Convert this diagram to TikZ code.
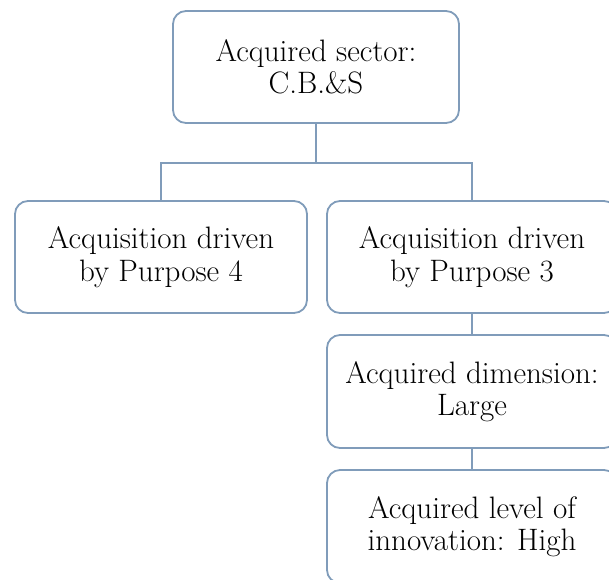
\documentclass[tikz,border=0pt]{standalone}
\usepackage{tikz}
\usetikzlibrary{
    positioning,
    calc
}

\definecolor{boxline}{RGB}{128,156,186}

\begin{document}
\begin{tikzpicture}[
    x=1pt,
    y=-1pt,
    every node/.style={
        font=\fontsize{31pt}{32.5pt}\selectfont
    },
    box/.style={
        draw=boxline,
        line width=1.8pt,
        rounded corners=13pt,
        align=center,
        minimum width=290pt,
        minimum height=112pt,
        inner sep=0pt
    },
    link/.style={
        draw=boxline,
        line width=1.8pt
    }
]

    % Page frame
    \useasboundingbox (0,0) rectangle (609,579);
    \clip (0,0) rectangle (609,579);

    % Acquired sector
    \node[box, minimum width=286pt] (sector) at (316,67)
        {Acquired sector:\\C.B.\&S};

    % Purposes
    \node[box, minimum width=292pt] (purpose4) at (161,257)
        {Acquisition driven\\by Purpose 4};

    \node[box] (purpose3) at (472,257)
        {Acquisition driven\\by Purpose 3};

    % Dimension and innovation
    \node[box, minimum height=113pt] (dimension) at (472,391.5)
        {Acquired dimension:\\Large};

    \node[box, minimum height=113pt] (innovation) at (472,526.5)
        {Acquired level of\\innovation: High};

    % Connectors
    \coordinate (split) at (316,163);

    \draw[link] (sector.south) -- (split);
    \draw[link] (split) -| (purpose4.north);
    \draw[link] (split) -| (purpose3.north);
    \draw[link] (purpose3.south) -- (dimension.north);
    \draw[link] (dimension.south) -- (innovation.north);

\end{tikzpicture}
\end{document}
